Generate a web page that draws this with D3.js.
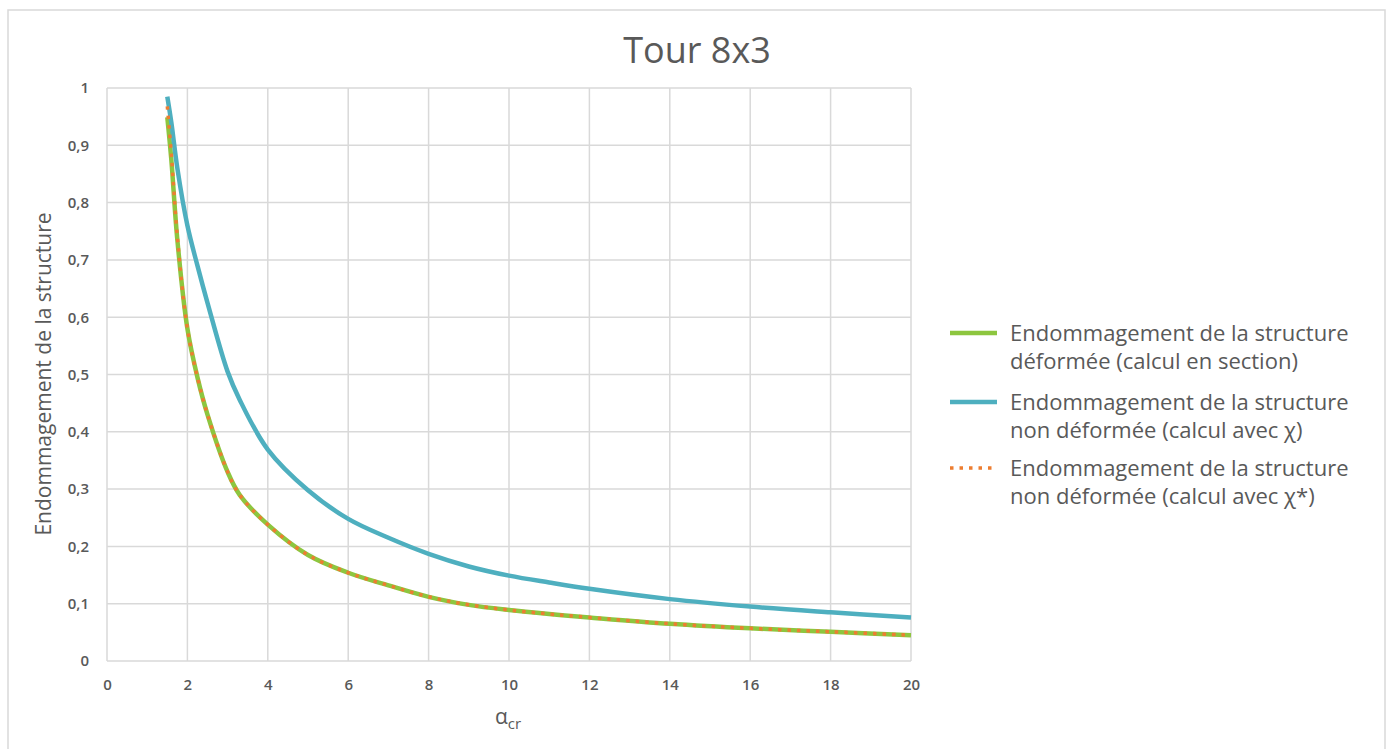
<!DOCTYPE html>
<html>
<head>
<meta charset="utf-8">
<script src="https://cdn.jsdelivr.net/npm/d3@7"></script>
<style>
  body { margin: 0; background: #fff; }
  text { font-family: "Open Sans", sans-serif; fill: #595959; }
</style>
</head>
<body>
<div id="chart"></div>
<script>
// chart values
var alpha = [1.5, 1.6, 1.75, 2, 2.25, 2.5, 3, 3.3, 4, 5, 6, 7, 8, 9, 10, 11, 12, 14, 16, 18, 20];
var deformed = [0.949, 0.875, 0.735, 0.58, 0.495, 0.43, 0.33, 0.29, 0.238, 0.185, 0.154, 0.132, 0.112, 0.098, 0.089, 0.082, 0.076, 0.065, 0.057, 0.051, 0.045];
var undeformedChi = [0.985, 0.94, 0.86, 0.76, 0.69, 0.625, 0.505, 0.456, 0.369, 0.298, 0.248, 0.215, 0.187, 0.165, 0.149, 0.137, 0.126, 0.108, 0.095, 0.085, 0.076];
var undeformedChiStar = [0.968, 0.885, 0.74, 0.58, 0.495, 0.43, 0.33, 0.29, 0.238, 0.185, 0.154, 0.132, 0.112, 0.098, 0.089, 0.082, 0.076, 0.065, 0.057, 0.051, 0.045];
var xTicks = [0, 2, 4, 6, 8, 10, 12, 14, 16, 18, 20];
var yTicks = [0, 0.1, 0.2, 0.3, 0.4, 0.5, 0.6, 0.7, 0.8, 0.9, 1];
var legendLines = [
  ["Endommagement de la structure", "déformée (calcul en section)"],
  ["Endommagement de la structure", "non déformée (calcul avec χ)"],
  ["Endommagement de la structure", "non déformée (calcul avec χ*)"]
];

var W = 1392, H = 749;
var plot = {left: 107, right: 911, top: 88, bottom: 661};

var svg = d3.select("#chart").append("svg")
  .attr("width", W)
  .attr("height", H);

// outer frame
svg.append("rect")
  .attr("x", 8).attr("y", 10)
  .attr("width", 1377).attr("height", 760)
  .attr("fill", "none")
  .attr("stroke", "#d9d9d9")
  .attr("stroke-width", 1.5);

var x = d3.scaleLinear().domain([0, 20]).range([plot.left, plot.right]);
var y = d3.scaleLinear().domain([0, 1]).range([plot.bottom, plot.top]);

// grid
svg.append("g").selectAll("line").data(xTicks).join("line")
  .attr("x1", d => x(d)).attr("x2", d => x(d))
  .attr("y1", plot.top).attr("y2", plot.bottom)
  .attr("stroke", "#d9d9d9").attr("stroke-width", 1.5);
svg.append("g").selectAll("line").data(yTicks).join("line")
  .attr("x1", plot.left).attr("x2", plot.right)
  .attr("y1", d => y(d)).attr("y2", d => y(d))
  .attr("stroke", "#d9d9d9").attr("stroke-width", 1.5);

// axes (tick labels only, lines come from the grid)
var xAxis = svg.append("g")
  .attr("transform", `translate(0,${plot.bottom})`)
  .call(d3.axisBottom(x).tickValues(xTicks).tickSize(0).tickPadding(18));
var yAxis = svg.append("g")
  .attr("transform", `translate(${plot.left},0)`)
  .call(d3.axisLeft(y).tickValues(yTicks).tickSize(0).tickPadding(18)
    .tickFormat(d => String(d).replace(".", ",")));
[xAxis, yAxis].forEach(function (a) {
  a.select(".domain").remove();
  a.selectAll("text")
    .style("font-family", "'Open Sans', sans-serif")
    .style("font-size", "15px")
    .style("font-weight", "600")
    .attr("fill", "#595959");
});

// title
svg.append("text")
  .attr("x", 697).attr("y", 63)
  .attr("text-anchor", "middle")
  .style("font-size", "36px")
  .text("Tour 8x3");

// y axis title
svg.append("text")
  .attr("transform", "translate(51,374) rotate(-90)")
  .attr("text-anchor", "middle")
  .style("font-size", "21px")
  .text("Endommagement de la structure");

// x axis title
var xt = svg.append("text")
  .attr("x", 508).attr("y", 724)
  .attr("text-anchor", "middle")
  .style("font-size", "21px");
xt.append("tspan").text("α");
xt.append("tspan").attr("dy", 5).style("font-size", "15px").text("cr");

// lines
var line = d3.line()
  .x((d, i) => x(alpha[i]))
  .y(d => y(d))
  .curve(d3.curveCatmullRom.alpha(0.5));

var series = [
  {vals: deformed, color: "#8dc63f", width: 4.5, dash: null},
  {vals: undeformedChi, color: "#4eafbf", width: 4.5, dash: null},
  {vals: undeformedChiStar, color: "#ed7d31", width: 3.5, dash: "3.5 6"}
];

series.forEach(function (s) {
  svg.append("path")
    .datum(s.vals)
    .attr("d", line)
    .attr("fill", "none")
    .attr("stroke", s.color)
    .attr("stroke-width", s.width)
    .attr("stroke-dasharray", s.dash);
});

// legend
var legendY = [333, 402, 468];
series.forEach(function (s, i) {
  svg.append("line")
    .attr("x1", 950).attr("x2", 997)
    .attr("y1", legendY[i]).attr("y2", legendY[i])
    .attr("stroke", s.color)
    .attr("stroke-width", s.width)
    .attr("stroke-dasharray", s.dash);
  var t = svg.append("text")
    .attr("x", 1010).attr("y", legendY[i] + 8)
    .style("font-size", "22px");
  t.append("tspan").attr("x", 1010).text(legendLines[i][0]);
  t.append("tspan").attr("x", 1010).attr("dy", 28).text(legendLines[i][1]);
});
</script>
</body>
</html>
